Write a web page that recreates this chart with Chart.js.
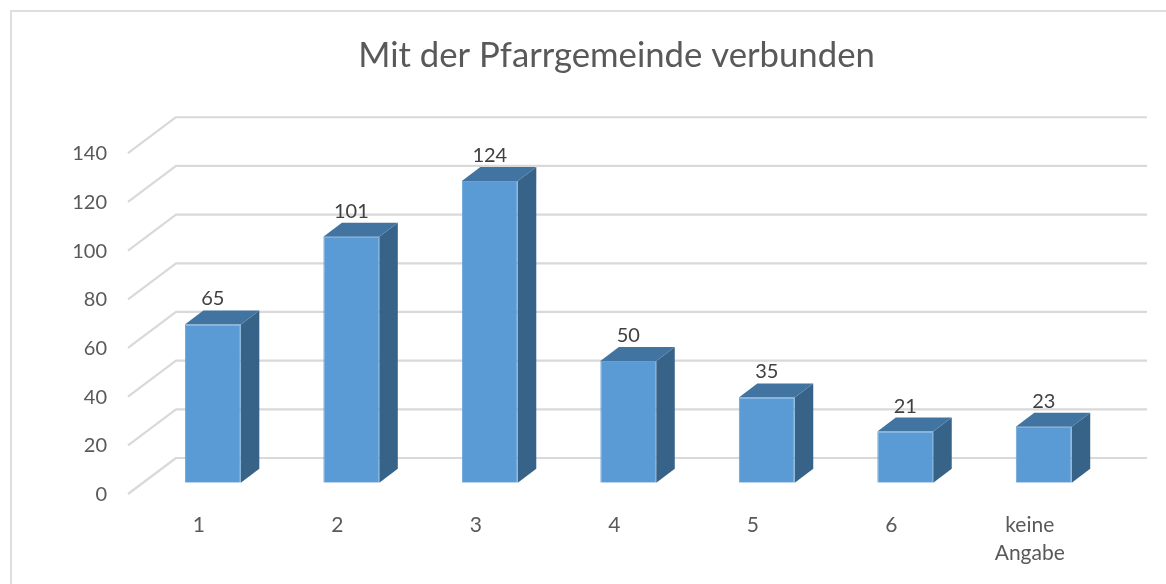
<!DOCTYPE html>
<html>
<head>
<meta charset="utf-8">
<style>html,body{margin:0;padding:0;background:#fff}#c{display:block}</style>
<script src="https://cdn.jsdelivr.net/npm/chart.js@4"></script>
</head>
<body>
<canvas id="c" width="1166" height="584"></canvas>
<script>
const categories = ["1", "2", "3", "4", "5", "6", ["keine", "Angabe"]];
const values = [65, 101, 124, 50, 35, 21, 23];
const titleText = "Mit der Pfarrgemeinde verbunden";
const yMax = 140;
const yStep = 20;

const FONT = "Lato, Carlito, 'Open Sans', sans-serif";
const TEXT = "#595959";
const GRID = "#d9d9d9";
const FRONT = "#5b9bd5";
const TOP = "#4274a1";
const SIDE = "#386389";

const scene3d = {
  id: "scene3d",
  afterLayout(chart) {
    // centre the native title over the plot the way the reference does
    chart.titleBlock.left = 120;
    chart.titleBlock.right = 1113;
  },
  beforeDraw(chart) {
    const c = chart.ctx;
    c.save();
    c.strokeStyle = "#dedede";
    c.lineWidth = 2;
    c.beginPath();
    c.moveTo(1166, 11);
    c.lineTo(11, 11);
    c.lineTo(11, 584);
    c.stroke();
    c.restore();
  },
  beforeDatasetsDraw(chart) {
    const c = chart.ctx, y = chart.scales.y;
    c.save();
    c.strokeStyle = GRID;
    c.lineWidth = 2.2;
    c.lineJoin = "round";
    y.ticks.forEach(t => {
      const p = y.getPixelForValue(t.value);
      c.beginPath();
      c.moveTo(128, p + 11.3);
      c.lineTo(176, p - 24.7);
      c.lineTo(1147, p - 24.7);
      c.stroke();
    });
    const dx = 18.5, dy = -14;
    chart.getDatasetMeta(0).data.forEach(b => {
      const l = b.x - b.width / 2, r = b.x + b.width / 2, t = b.y, bot = b.base;
      c.fillStyle = SIDE;
      c.beginPath();
      c.moveTo(r, t); c.lineTo(r + dx, t + dy); c.lineTo(r + dx, bot + dy); c.lineTo(r, bot);
      c.closePath(); c.fill();
      c.fillStyle = TOP;
      c.beginPath();
      c.moveTo(l, t); c.lineTo(l + dx, t + dy); c.lineTo(r + dx, t + dy); c.lineTo(r, t);
      c.closePath(); c.fill();
    });
    c.restore();
  },
  afterDatasetsDraw(chart) {
    const c = chart.ctx;
    c.save();
    c.fillStyle = "#404040";
    c.font = "20px " + FONT;
    c.textAlign = "center";
    c.textBaseline = "middle";
    chart.getDatasetMeta(0).data.forEach((b, i) => {
      c.fillText(String(values[i]), b.x, b.y - 25.5);
    });
    c.restore();
  }
};

new Chart(document.getElementById("c"), {
  type: "bar",
  data: {
    labels: categories,
    datasets: [{
      data: values,
      backgroundColor: FRONT,
      borderColor: "#66a2d9",
      borderWidth: 1,
      barPercentage: 0.404,
      categoryPercentage: 1
    }]
  },
  options: {
    responsive: false,
    animation: false,
    events: [],
    layout: { padding: { left: 0, right: 53, top: 0, bottom: 0 } },
    plugins: {
      legend: { display: false },
      tooltip: { enabled: false },
      title: {
        display: true,
        text: titleText,
        color: TEXT,
        font: { family: FONT, size: 34.7, weight: "normal", lineHeight: 1.2 },
        padding: { top: 35.2, bottom: 65.1 }
      }
    },
    scales: {
      x: {
        afterFit(s) { s.height = 101.3; },
        grid: { display: false, drawTicks: false },
        border: { display: false },
        ticks: {
          color: TEXT,
          font: { family: FONT, size: 21, lineHeight: 1.33 },
          labelOffset: -14,
          padding: 29,
          maxRotation: 0,
          autoSkip: false
        }
      },
      y: {
        min: 0,
        max: yMax,
        afterFit(s) { s.width = 143.6; },
        grid: { display: false, drawTicks: false },
        border: { display: false },
        ticks: {
          stepSize: yStep,
          color: TEXT,
          font: { family: FONT, size: 20 },
          labelOffset: 12,
          padding: 36.6
        }
      }
    }
  },
  plugins: [scene3d]
});
</script>
</body>
</html>
